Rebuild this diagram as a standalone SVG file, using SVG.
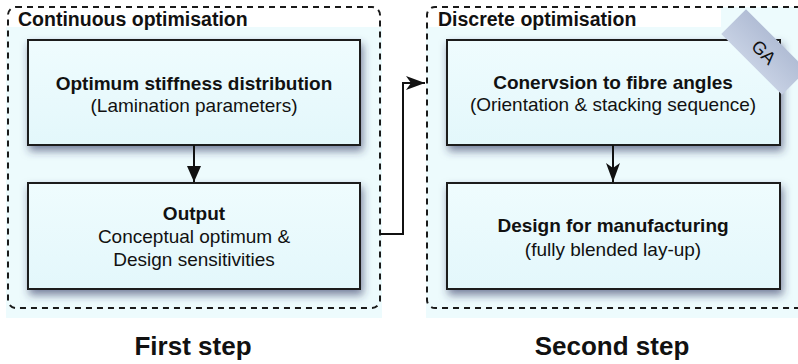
<svg xmlns="http://www.w3.org/2000/svg" width="798" height="364" viewBox="0 0 798 364">
  <defs>
    <style>
      text { font-family: "Liberation Sans", Arial, Helvetica, sans-serif; fill: #111; }
      .title { font-size: 19.5px; font-weight: bold; }
      .head { font-size: 19px; font-weight: bold; text-anchor: middle; }
      .sub { font-size: 19px; text-anchor: middle; }
      .step { font-size: 26px; font-weight: bold; text-anchor: middle; }
      .area { fill: #edfbfd; }
      .frame { fill: none; stroke: #1a1a1a; stroke-width: 2; stroke-dasharray: 6 5; }
      .box { fill: url(#boxFill); stroke: #1a1a1a; stroke-width: 2; filter: url(#shadow); }
      .wire { fill: none; stroke: #111; stroke-width: 2; }
    </style>
    <linearGradient id="boxFill" x1="0" y1="0" x2="0" y2="1">
      <stop offset="0" stop-color="#effcfe"/>
      <stop offset="1" stop-color="#e3f7fb"/>
    </linearGradient>
    <linearGradient id="tagFill" x1="0" y1="0" x2="0" y2="1">
      <stop offset="0" stop-color="#b1bdd5"/>
      <stop offset="1" stop-color="#c6d0e3"/>
    </linearGradient>
    <filter id="shadow" x="-10%" y="-15%" width="125%" height="145%">
      <feDropShadow dx="2" dy="5" stdDeviation="4" flood-color="#2c3560" flood-opacity="0.6"/>
    </filter>
    <marker id="tri" markerUnits="userSpaceOnUse" markerWidth="16" markerHeight="16" refX="16" refY="8" orient="auto">
      <path d="M0,1 L16,8 L0,15 z" fill="#111"/>
    </marker>
    <marker id="stealth" markerUnits="userSpaceOnUse" markerWidth="20" markerHeight="14" refX="19" refY="7" orient="auto">
      <path d="M0,0 L19,7 L0,14 L5,7 z" fill="#111"/>
    </marker>
  </defs>

  <!-- container backgrounds -->
  <rect class="area" x="6" y="27" width="376" height="291"/>
  <rect class="area" x="426" y="7" width="372" height="311"/>
  <rect x="426" y="0" width="295" height="27" fill="#fff"/>

  <!-- first step: continuous optimisation -->
  <g id="continuous">
    <rect class="frame" x="8" y="7" width="372" height="301" rx="8"/>
    <text class="title" x="18" y="26">Continuous optimisation</text>
  </g>

  <!-- second step: discrete optimisation (frame runs past the right edge) -->
  <g id="discrete">
    <path class="frame" d="M800,7 H435 A8,8 0 0 0 427,15 V300 A8,8 0 0 0 435,308 H800"/>
    <text class="title" x="438" y="26">Discrete optimisation</text>
  </g>

  <g id="stiffness">
    <rect class="box" x="28" y="40" width="332" height="105"/>
    <text class="head" x="194" y="90">Optimum stiffness distribution</text>
    <text class="sub" x="194" y="112">(Lamination parameters)</text>
  </g>

  <g id="output">
    <rect class="box" x="28" y="183" width="332" height="106"/>
    <text class="head" x="194" y="220">Output</text>
    <text class="sub" x="194" y="243">Conceptual optimum &amp;</text>
    <text class="sub" x="194" y="266">Design sensitivities</text>
  </g>

  <g id="conversion">
    <rect class="box" x="447" y="40" width="333" height="105"/>
    <text class="head" x="613" y="89">Conervsion to fibre angles</text>
    <text class="sub" x="613" y="111">(Orientation &amp; stacking sequence)</text>
  </g>

  <g id="ga-tag">
    <g transform="translate(764 52) rotate(45)">
      <rect x="-43" y="-17.5" width="86" height="35" fill="url(#tagFill)"/>
      <text x="0" y="6.5" font-size="18" text-anchor="middle" fill="#222">GA</text>
    </g>
  </g>

  <g id="manufacturing">
    <rect class="box" x="447" y="183" width="333" height="106"/>
    <text class="head" x="613" y="232">Design for manufacturing</text>
    <text class="sub" x="613" y="256">(fully blended lay-up)</text>
  </g>

  <g id="connectors">
    <line class="wire" x1="194" y1="145" x2="194" y2="182" marker-end="url(#tri)"/>
    <line class="wire" x1="613" y1="145" x2="613" y2="182" marker-end="url(#stealth)"/>
    <polyline class="wire" points="380,234 403,234 403,83 425,83" marker-end="url(#stealth)"/>
  </g>

  <text class="step" x="193" y="355">First step</text>
  <text class="step" x="612" y="355">Second step</text>
</svg>
